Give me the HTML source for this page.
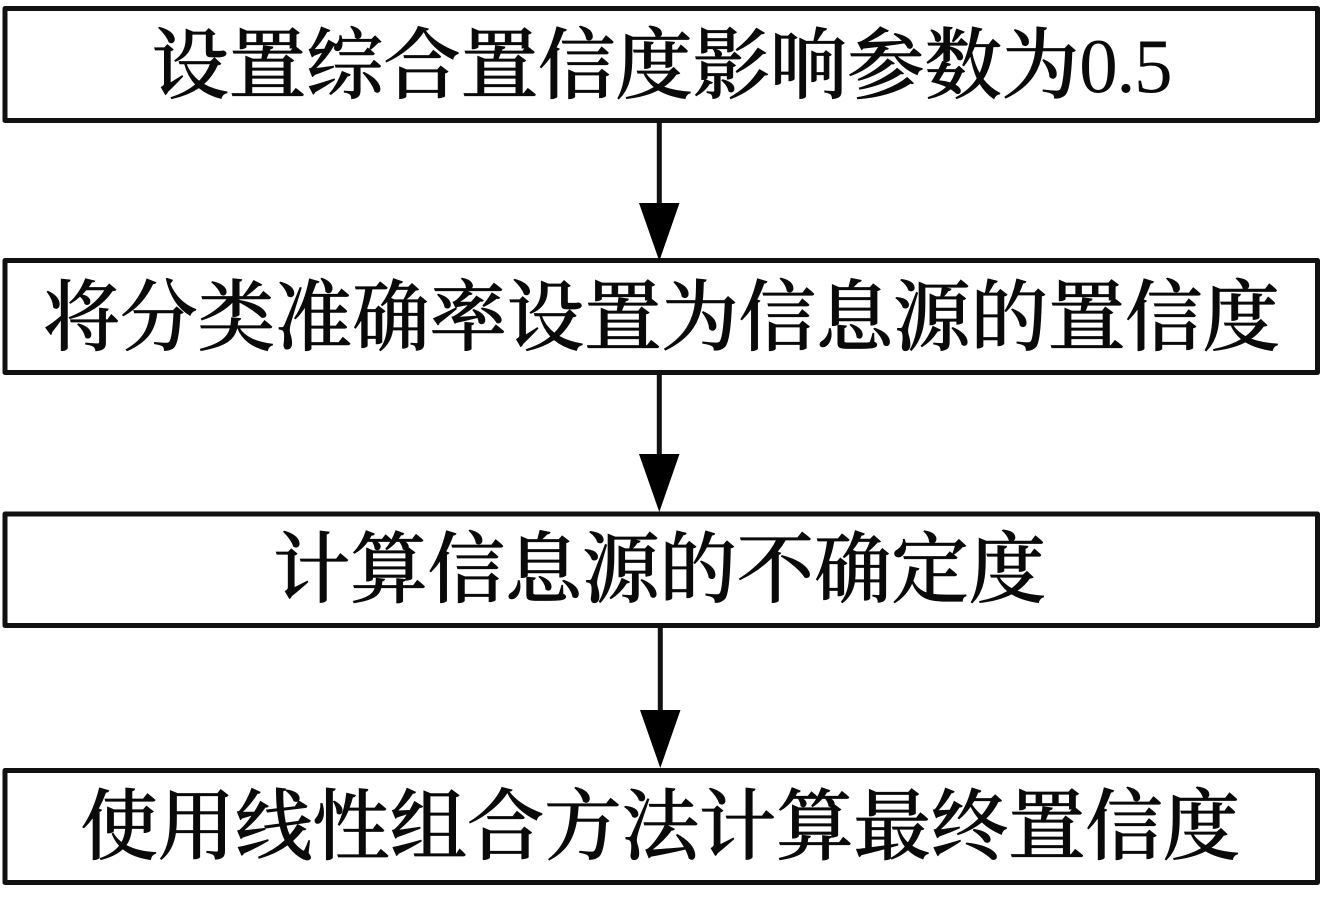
<!DOCTYPE html>
<html lang="zh"><head><meta charset="utf-8"><style>
html,body{margin:0;padding:0;background:#fff}
svg{display:block}
text{font-family:"Liberation Serif","Noto Serif CJK SC",serif;font-size:77.3px;font-weight:500;fill:#0a0a0a;stroke:#0a0a0a;stroke-width:.8px}
</style></head><body>
<svg width="1322" height="904" viewBox="0 0 1322 904" xmlns="http://www.w3.org/2000/svg">
<rect width="1322" height="904" fill="#fff"/>
<g fill="none" stroke="#111" stroke-width="5" stroke-linejoin="round">
<rect x="5" y="8.500" width="1312.500" height="112"/>
<rect x="5" y="260.500" width="1312.500" height="112"/>
<rect x="5" y="514" width="1312.500" height="111.500"/>
<rect x="5" y="770.500" width="1312.500" height="112"/>
<path d="M659.300 120V210M659.300 372V462M660.300 625V718"/>
</g>
<g fill="#000">
<path d="M639 203H679.500L659.300 261Z"/>
<path d="M639 454H679.500L659.300 512Z"/>
<path d="M640 710H680.500L660.300 768Z"/>
</g>
<text x="151.500" y="92">设置综合置信度影响参数为<tspan letter-spacing="-1.5" stroke-width="0">0.5</tspan></text>
<text x="43" y="344">将分类准确率设置为信息源的置信度</text>
<text x="273" y="596">计算信息源的不确定度</text>
<text x="80.500" y="853">使用线性组合方法计算最终置信度</text>
</svg>
</body></html>
